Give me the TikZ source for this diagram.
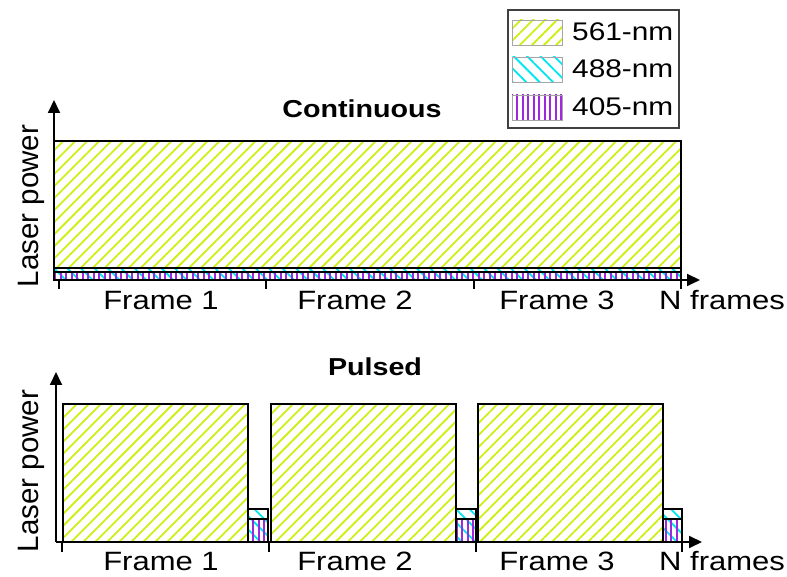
\documentclass[tikz,border=0pt]{standalone}
\usepackage{fontspec}
\newfontfamily\lab[FakeStretch=1.17]{Liberation Sans}
\newfontfamily\labplain{Liberation Sans}
\usetikzlibrary{patterns.meta,arrows.meta}
\definecolor{c561}{RGB}{206,238,20}
\definecolor{c488}{RGB}{0,230,240}
\definecolor{c405}{RGB}{160,40,220}
\begin{document}
\begin{tikzpicture}[x=1pt,y=1pt,
 ax/.style={line width=1.8pt,-{Triangle[width=12pt,length=13pt]}},
 tk/.style={line width=1.5pt},
 bx/.style={draw=black,line width=1.5pt},
 sw/.style={draw=gray!70,line width=0.8pt},
 g561/.style={pattern={Lines[angle=45,distance=8.5pt,line width=1.8pt]},pattern color=c561},
 g488/.style={pattern={Lines[angle=-45,distance=9.5pt,line width=1.8pt]},pattern color=c488},
 g405/.style={pattern={Lines[angle=90,distance=5.5pt,line width=2pt]},pattern color=c405},
 lbl/.style={font=\lab\fontsize{26.5}{30}\selectfont,inner sep=0pt},
 ttl/.style={font=\lab\bfseries\fontsize{24.5}{28}\selectfont,inner sep=0pt},
 ylbl/.style={font=\labplain\fontsize{29.5}{32}\selectfont,inner sep=0pt,rotate=90},
 leg/.style={font=\lab\fontsize{25.5}{28}\selectfont,inner sep=0pt,anchor=base west}]
\useasboundingbox (0,0) rectangle (787,577);
% ---------- legend ----------
\draw[draw=black!75,line width=1.2pt] (508,449) rectangle (679,567);
\draw[sw,g561] (512,532) rectangle (562,557);
\draw[sw,g488] (512,495) rectangle (562,520);
\draw[sw,g405] (512,457) rectangle (562,482);
\node[leg] (l561) at (572,536) {561-nm};
\node[leg] (l488) at (572,499) {488-nm};
\node[leg] (l405) at (572,461) {405-nm};
% ---------- top panel (continuous) ----------
\node[ttl,anchor=base] (tcont) at (362,459) {Continuous};
\draw[bx,g561] (54,309) rectangle (681,436);
\draw[bx,g488] (54,297) rectangle (681,309);
\draw[bx,g405] (54,297) rectangle (681,305);
\coordinate (o1) at (54,297);
\coordinate (y1) at (54,477);
\coordinate (x1) at (700,297);
\draw[ax] (o1) -- (y1);
\draw[ax] (o1) -- (x1);
\foreach \t [count=\i] in {59,266,474,681}{
  \coordinate (ta\i) at (\t,297);
  \coordinate (tb\i) at (\t,288);
  \draw[tk] (ta\i) -- (tb\i);
}
\node[ylbl] (ylab1) at (31,371) {Laser power};
\node[lbl,anchor=base] (f11) at (161,267) {Frame 1};
\node[lbl,anchor=base] (f12) at (355,267) {Frame 2};
\node[lbl,anchor=base] (f13) at (557,267) {Frame 3};
\node[lbl,anchor=base west] (fn1) at (659,267) {N frames};
% ---------- bottom panel (pulsed) ----------
\node[ttl,anchor=base] (tpul) at (375,201) {Pulsed};
\foreach \a/\b/\c in {63/248/268,271/456/476,478/663/682}{
  \draw[bx,g561] (\a,35) rectangle (\b,173);
  \draw[bx,g488] (\b,35) rectangle (\c,68);
  \draw[bx,g405] (\b,35) rectangle (\c,58);
}
\coordinate (o2) at (56,35);
\coordinate (y2) at (56,205);
\coordinate (x2) at (702,35);
\draw[ax] (o2) -- (y2);
\draw[ax] (o2) -- (x2);
\foreach \t [count=\i] in {62,269,476,682}{
  \coordinate (tc\i) at (\t,35);
  \coordinate (td\i) at (\t,25);
  \draw[tk] (tc\i) -- (td\i);
}
\node[ylbl] (ylab2) at (31,106) {Laser power};
\node[lbl,anchor=base] (f21) at (161,6) {Frame 1};
\node[lbl,anchor=base] (f22) at (355,6) {Frame 2};
\node[lbl,anchor=base] (f23) at (557,6) {Frame 3};
\node[lbl,anchor=base west] (fn2) at (659,6) {N frames};
\end{tikzpicture}
\end{document}
